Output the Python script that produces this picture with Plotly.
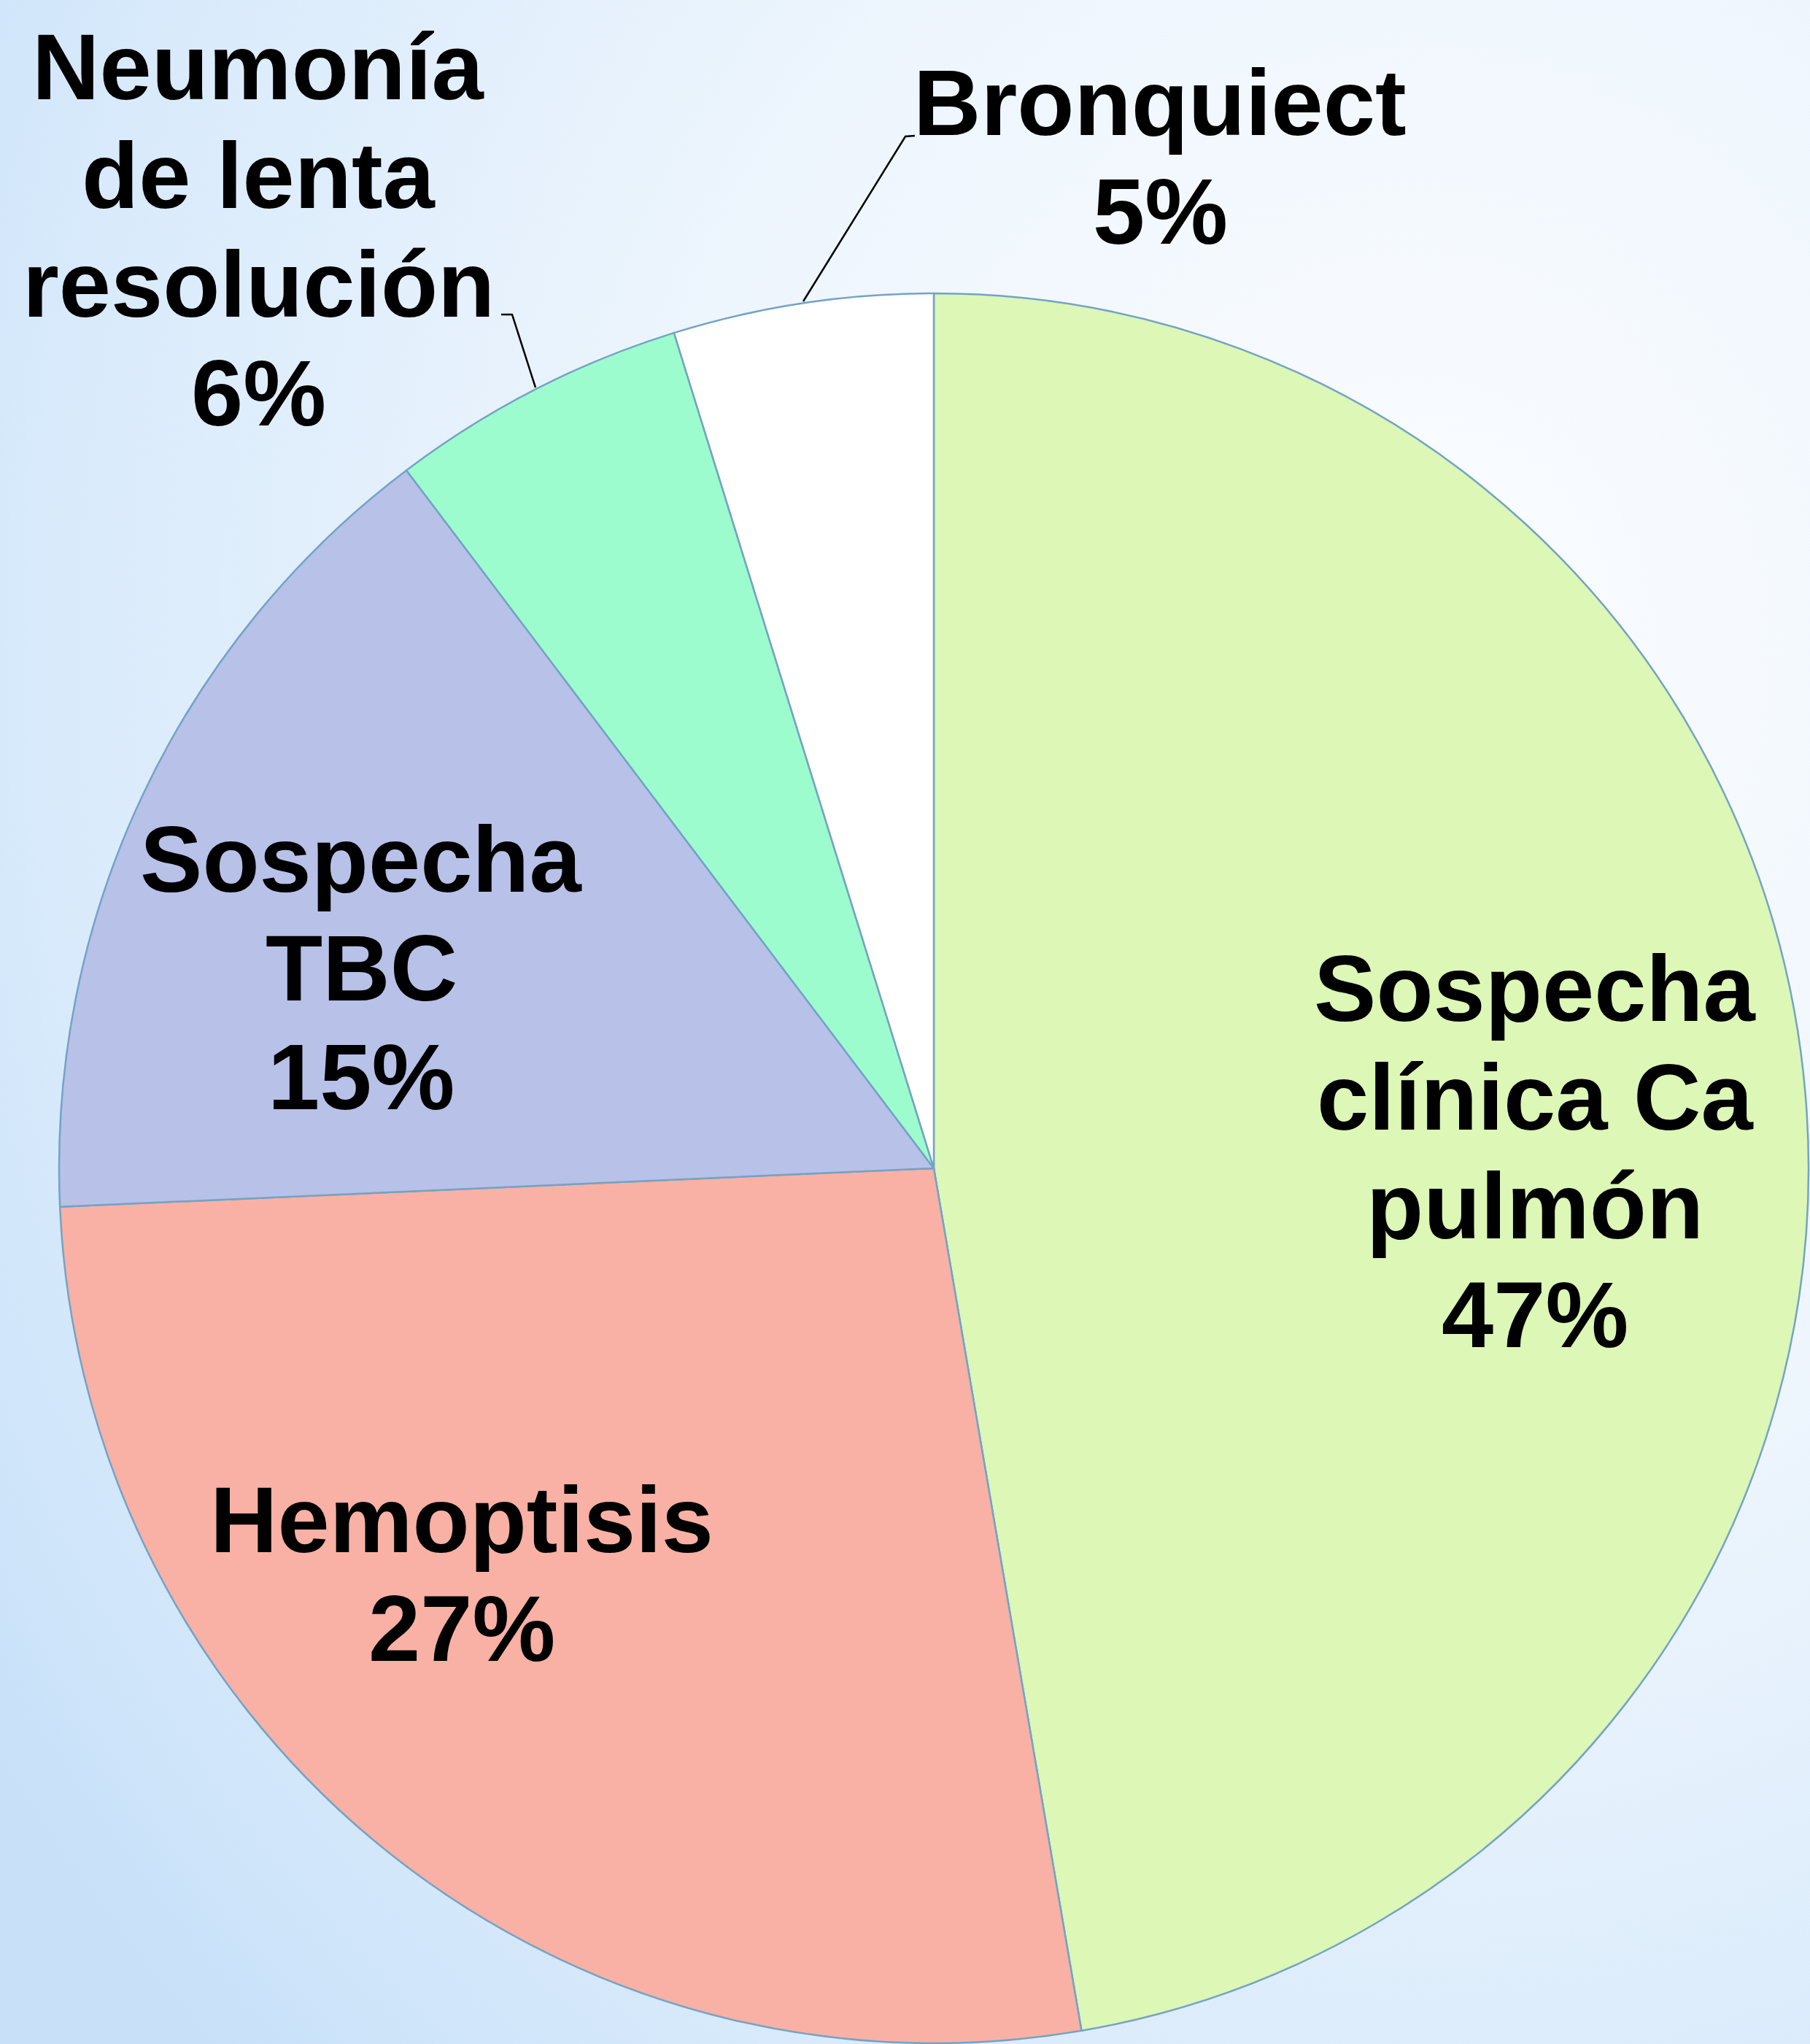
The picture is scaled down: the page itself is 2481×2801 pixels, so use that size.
import base64
import plotly.graph_objects as go

# ---- data ----
categories = ["Sospecha clínica Ca pulmón", "Hemoptisis", "Sospecha TBC",
              "Neumonía de lenta resolución", "Bronquiect"]
label_lines = [["Sospecha", "clínica Ca", "pulmón"],
               ["Hemoptisis"],
               ["Sospecha", "TBC"],
               ["Neumonía", "de lenta", "resolución"],
               ["Bronquiect"]]
values = [47.3, 27.0, 15.4, 5.5, 4.8]          # slice sizes
pct_labels = ["47%", "27%", "15%", "6%", "5%"]  # printed percentages
colors = ["#DCF7B6", "#F8B1A4", "#B8C1E8", "#9DFCCD", "#FFFFFF"]

W, H = 2481, 2801
CX, CY, R = 1280, 1601, 1199

# label placement (pixel centre x, first baseline y) - layout only
label_pos = [(2104, 1399), (633, 2127), (495, 1222), (354, 136), (1590, 185)]
LINE_STEP = 149
FONT_SIZE = 128


def px(x):
    return x / W


def py(y):
    return 1 - y / H


# background gradient as an SVG image
svg = f'''<svg xmlns="http://www.w3.org/2000/svg" width="{W}" height="{H}" viewBox="0 0 {W} {H}" preserveAspectRatio="none">
<defs>
<radialGradient id="g" cx="0.78" cy="0.32" r="0.95" fx="0.78" fy="0.32">
<stop offset="0" stop-color="#FBFDFF"/>
<stop offset="0.45" stop-color="#EDF5FD"/>
<stop offset="0.8" stop-color="#D8EAFB"/>
<stop offset="1" stop-color="#C8E1F9"/>
</radialGradient>
</defs>
<rect x="0" y="0" width="{W}" height="{H}" fill="url(#g)"/>
</svg>'''
svg_uri = "data:image/svg+xml;base64," + base64.b64encode(svg.encode()).decode()

fig = go.Figure(go.Pie(
    labels=categories,
    values=values,
    sort=False,
    direction="clockwise",
    rotation=0,
    textinfo="none",
    hoverinfo="label+percent",
    marker=dict(colors=colors, line=dict(color="#74A3C6", width=2.5)),
    domain=dict(x=[px(CX - R), px(CX + R)], y=[py(CY + R), py(CY - R)]),
    showlegend=False,
))

annotations = []
for lines, pct, (x0, y0) in zip(label_lines, pct_labels, label_pos):
    all_lines = lines + [pct]
    for i, t in enumerate(all_lines):
        baseline = y0 + i * LINE_STEP
        annotations.append(dict(
            x=px(x0), y=py(baseline - 0.35 * FONT_SIZE),
            xref="paper", yref="paper",
            xanchor="center", yanchor="middle",
            text=f"<b>{t}</b>", showarrow=False,
            font=dict(family="Liberation Sans, Arial, sans-serif",
                      size=FONT_SIZE, color="#000000"),
        ))

shapes = [
    dict(type="path", xref="paper", yref="paper",
         path=f"M {px(687)},{py(431)} L {px(702)},{py(431)} L {px(734)},{py(531)}",
         line=dict(color="#000000", width=2.5)),
    dict(type="path", xref="paper", yref="paper",
         path=f"M {px(1254)},{py(186)} L {px(1241)},{py(187)} L {px(1101)},{py(413)}",
         line=dict(color="#000000", width=2.5)),
]

fig.update_layout(
    width=W, height=H,
    margin=dict(l=0, r=0, t=0, b=0, pad=0),
    paper_bgcolor="#E6F1FC",
    plot_bgcolor="rgba(0,0,0,0)",
    images=[dict(source=svg_uri, xref="paper", yref="paper", x=0, y=1,
                 sizex=1, sizey=1, sizing="stretch", layer="below",
                 xanchor="left", yanchor="top")],
    annotations=annotations,
    shapes=shapes,
)

fig.write_html("out.html",
               config={"displayModeBar": False},
               post_script="document.body.style.margin='0';"
                           "document.body.style.overflow='hidden';")
